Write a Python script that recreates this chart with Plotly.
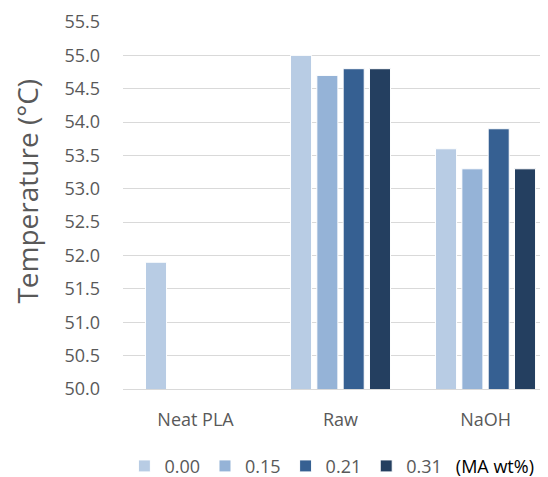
import plotly.graph_objects as go

categories = ["Neat PLA", "Raw", "NaOH"]
series_names = ["0.00", "0.15", "0.21", "0.31"]
values = {
    "0.00": [51.9, 55.0, 53.6],
    "0.15": [None, 54.7, 53.3],
    "0.21": [None, 54.8, 53.9],
    "0.31": [None, 54.8, 53.3],
}
colors = ["#b8cce4", "#95b3d7", "#366092", "#243f60"]

fig = go.Figure()
for name, color in zip(series_names, colors):
    label = name
    if name == "0.31":
        label = name + "&nbsp;&nbsp;&nbsp;<span style='color:#000000'>(MA wt%)</span>"
    fig.add_trace(go.Bar(
        x=categories, y=values[name], name=label,
        marker=dict(color=color, line=dict(color="white", width=1)),
    ))

fig.update_layout(
    width=548, height=477,
    margin=dict(l=115, r=11, t=14, b=96, autoexpand=False),
    paper_bgcolor="white", plot_bgcolor="white",
    font=dict(family="Open Sans", color="#595959", size=18),
    barmode="group", bargap=0.274, bargroupgap=0.2,
    legend=dict(orientation="h", x=0.495, xanchor="center", y=-0.16, yanchor="top",
                font=dict(size=18), itemwidth=30, traceorder="normal"),
    showlegend=True,
)
# axis title as annotation so it can sit where the original has it
fig.add_annotation(text="Temperature (°C)", textangle=-90, showarrow=False,
                   xref="paper", yref="paper", x=-0.228, y=0.54,
                   xanchor="center", yanchor="middle",
                   font=dict(size=28, color="#595959"))
fig.update_yaxes(range=[50.0, 55.5], dtick=0.5, tickformat=".1f",
                 showgrid=True, gridcolor="#d9d9d9", gridwidth=1,
                 zeroline=False, ticks="", ticklen=0, automargin=False,
                 ticklabelstandoff=22, tickfont=dict(size=18))
fig.update_xaxes(range=[-0.5, 2.41], showline=True, linecolor="#d9d9d9", ticks="",
                 automargin=False, ticklabelstandoff=14, tickfont=dict(size=18))

fig.write_html("out.html")
